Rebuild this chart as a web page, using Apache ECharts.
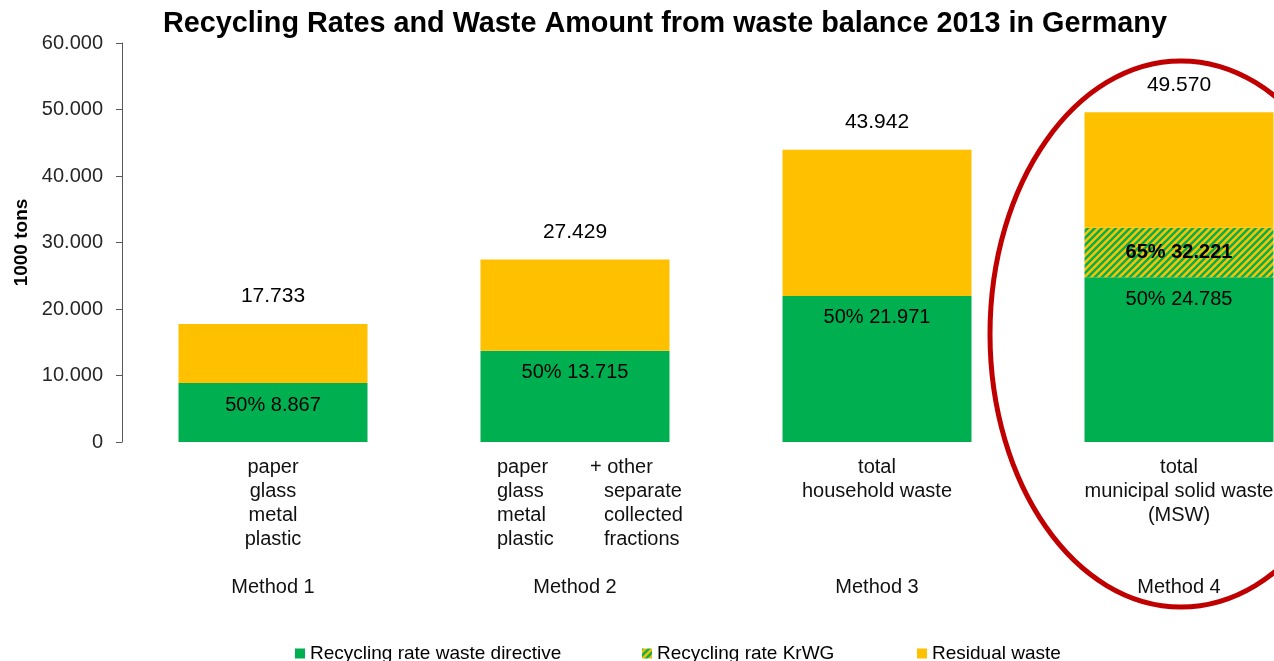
<!DOCTYPE html>
<html>
<head>
<meta charset="utf-8">
<script src="https://cdn.jsdelivr.net/npm/echarts@6/dist/echarts.min.js"></script>
<style>
  html, body { margin: 0; padding: 0; background: #fff; }
  #chart { width: 1274px; height: 661px; }
</style>
</head>
<body>
<div id="chart"></div>
<script>
// Waste balance 2013, Germany (values in 1000 tons)
const methods = ['Method 1', 'Method 2', 'Method 3', 'Method 4'];
const directiveAmount = [8867, 13715, 21971, 24785];   // recycling rate per waste directive
const directiveRate = [50, 50, 50, 50];
const krwgCumulative = [null, null, null, 32221];       // recycling rate per KrWG (cumulative)
const krwgRate = [null, null, null, 65];
const totals = [17733, 27429, 43942, 49570];
const yTicks = [0, 10000, 20000, 30000, 40000, 50000, 60000];

const GREEN = '#00B050';
const YELLOW = '#FFC000';
const FONT = 'Liberation Sans, Arial, sans-serif';

// Segment heights built from the figures above
const krwgSegment = krwgCumulative.map((c, i) => c == null ? 0 : c - directiveAmount[i]);
const residual = totals.map((t, i) => t - (krwgCumulative[i] == null ? directiveAmount[i] : krwgCumulative[i]));

const fmt = v => String(v).replace(/\B(?=(\d{3})+(?!\d))/g, '.');

// Diagonal green/yellow hatching for the KrWG segment
function hatch() {
  const s = 7;
  const c = document.createElement('canvas');
  c.width = s; c.height = s;
  const g = c.getContext('2d');
  g.fillStyle = YELLOW;
  g.fillRect(0, 0, s, s);
  g.strokeStyle = GREEN;
  g.lineWidth = 2.4;
  g.beginPath();
  for (const k of [0, s, 2 * s]) {
    g.moveTo(k - s - 1, s + 1);
    g.lineTo(k + 1, -1);
  }
  g.stroke();
  return c;
}
const hatchFill = { image: hatch(), repeat: 'repeat' };

// Category captions below each bar
const C = t => '{c|' + t + '}';
const captions = {
  'Method 1': [C('paper'), C('glass'), C('metal'), C('plastic'), C(' '), C('Method 1')],
  'Method 2': ['{a|paper}{b|+ other}', '{l|glass}{r|separate}', '{l|metal}{r|collected}', '{l|plastic}{r|fractions}', C(' '), C('Method 2')],
  'Method 3': [C('total'), C('household waste'), C(' '), C(' '), C(' '), C('Method 3')],
  'Method 4': [C('total'), C('municipal solid waste'), C('(MSW)'), C(' '), C(' '), C('Method 4')]
};

const chart = echarts.init(document.getElementById('chart'), null, { renderer: 'canvas' });

const richBase = { fontFamily: FONT, color: '#111', fontSize: 20, lineHeight: 24 };

const option = {
  animation: false,
  backgroundColor: '#fff',
  title: {
    text: 'Recycling Rates and Waste Amount from waste balance 2013 in Germany',
    left: 158,
    top: 5,
    textStyle: { fontFamily: FONT, fontSize: 28.8, fontWeight: 'bold', color: '#000' }
  },
  legend: [
    { data: ['Recycling rate waste directive'], left: 290 },
    { data: ['Recycling rate KrWG'], left: 637 },
    { data: ['Residual waste'], left: 912 }
  ].map(l => Object.assign(l, {
    top: 639,
    icon: 'rect',
    itemWidth: 10,
    itemHeight: 10,
    itemGap: 0,
    textStyle: { fontFamily: FONT, fontSize: 19, color: '#000' }
  })),
  // plot area runs past the right edge, so the last bar is cut off
  grid: { left: 122, top: 43, width: 1208, height: 399, containLabel: false, outerBoundsMode: 'none' },
  xAxis: {
    type: 'category',
    data: methods,
    axisLine: { show: false },
    axisTick: { show: false },
    axisLabel: {
      interval: 0,
      margin: 13,
      lineHeight: 24,
      formatter: v => captions[v].join('\n'),
      rich: {
        c: Object.assign({ align: 'center' }, richBase),
        a: Object.assign({ align: 'left', width: 93 }, richBase),
        b: Object.assign({ align: 'left', width: 63 }, richBase),
        l: Object.assign({ align: 'left', width: 107 }, richBase),
        r: Object.assign({ align: 'left', width: 49 }, richBase)
      }
    }
  },
  yAxis: {
    type: 'value',
    min: yTicks[0],
    max: yTicks[yTicks.length - 1],
    interval: yTicks[1] - yTicks[0],
    name: '1000 tons',
    nameLocation: 'middle',
    nameGap: 87,
    nameTextStyle: { fontFamily: FONT, fontSize: 19, fontWeight: 'bold', color: '#000' },
    axisLine: { show: true, lineStyle: { color: '#595959', width: 1 } },
    axisTick: { show: true, length: 6, lineStyle: { color: '#595959' } },
    splitLine: { show: false },
    axisLabel: {
      margin: 19,
      fontFamily: FONT,
      fontSize: 20,
      color: '#262626',
      formatter: v => fmt(v)
    }
  },
  series: [
    {
      name: 'Recycling rate waste directive',
      type: 'bar',
      stack: 'waste',
      barWidth: 189,
      data: directiveAmount,
      itemStyle: { color: GREEN },
      label: {
        show: true,
        position: 'insideTop',
        distance: 12,
        fontFamily: FONT, fontSize: 20, color: '#000',
        formatter: p => directiveRate[p.dataIndex] + '% ' + fmt(p.value)
      }
    },
    {
      name: 'Recycling rate KrWG',
      type: 'bar',
      stack: 'waste',
      barWidth: 189,
      data: krwgSegment,
      itemStyle: { color: hatchFill },
      label: {
        show: true,
        position: 'inside',
        fontFamily: FONT, fontSize: 20, color: '#000', fontWeight: 'bold',
        formatter: p => krwgRate[p.dataIndex] == null ? '' :
          krwgRate[p.dataIndex] + '% ' + fmt(krwgCumulative[p.dataIndex])
      }
    },
    {
      name: 'Residual waste',
      type: 'bar',
      stack: 'waste',
      barWidth: 189,
      data: residual,
      itemStyle: { color: YELLOW },
      label: {
        show: true,
        position: 'top',
        distance: 17,
        fontFamily: FONT, fontSize: 21, color: '#000',
        formatter: p => fmt(totals[p.dataIndex])
      }
    }
  ]
};

chart.setOption(option);

// Red ellipse highlighting Method 4
const cx = chart.convertToPixel({ xAxisIndex: 0 }, 'Method 4') + 2;
chart.setOption({
  graphic: [{
    type: 'ellipse',
    z: 100,
    shape: { cx: cx, cy: 334, rx: 191, ry: 273 },
    style: { fill: 'none', stroke: '#C00000', lineWidth: 5 }
  }]
});
</script>
</body>
</html>
